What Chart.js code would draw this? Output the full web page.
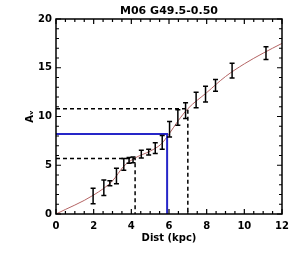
<!DOCTYPE html>
<html><head><meta charset="utf-8">
<script src="https://cdn.jsdelivr.net/npm/chart.js@4"></script>
<style>html,body{margin:0;padding:0;background:#fff}#wrap{width:300px;height:253px}</style>
</head><body><div id="wrap"><canvas id="c" width="300" height="253"></canvas></div>
<script>
const titleText = 'M06 G49.5-0.50';
const xLabel = 'Dist (kpc)';
const yLabel = 'A\u1D65';
const xRange = [0, 12];
const yRange = [0, 20];
const xMajorStep = 2, xMinorStep = 0.5;
const yMajorStep = 5, yMinorStep = 1;

// measured extinction points
const dist  = [1.97, 2.54, 2.86, 3.21, 3.60, 3.88, 4.09, 4.53, 4.92, 5.27, 5.64, 6.03, 6.47, 6.88, 7.44, 7.94, 8.47, 9.35, 11.15];
const av    = [1.85, 2.70, 3.15, 3.90, 5.10, 5.50, 5.55, 6.15, 6.35, 6.75, 7.35, 8.70, 9.90, 10.60, 11.70, 12.30, 13.20, 14.70, 16.50];
const avErr = [0.80, 0.80, 0.25, 0.80, 0.60, 0.30, 0.30, 0.40, 0.30, 0.55, 0.70, 0.80, 0.80, 0.80, 0.80, 0.80, 0.60, 0.75, 0.65];

// fitted extinction curve
const fitDist = [0, 2.0, 3.0, 3.6, 4.2, 5.0, 5.6, 6.0, 6.5, 7.0, 8.0, 9.0, 10.0, 11.0, 12.0];
const fitAv   = [0, 1.95, 3.4, 4.9, 5.75, 6.45, 7.2, 8.2, 9.6, 10.8, 12.45, 14.1, 15.4, 16.5, 17.5];

// guide lines: [distance, Av]
const guideNear = [4.2, 5.7];
const guideFar  = [7.0, 10.8];
const guideBest = [5.9, 8.2];

const pts = dist.map((d, i) => ({x: d, y: av[i]}));
const fitPts = fitDist.map((d, i) => ({x: d, y: fitAv[i]}));
const guide = g => [{x: xRange[0], y: g[1]}, {x: g[0], y: g[1]}, {x: g[0], y: yRange[0]}];

const idlPlugin = {
  id: 'idl',
  afterDatasetsDraw(chart) {
    const ctx = chart.ctx, xs = chart.scales.x, ys = chart.scales.y;
    ctx.save();
    ctx.strokeStyle = '#000';
    ctx.lineWidth = 1.5;
    dist.forEach((d, i) => {
      const px = xs.getPixelForValue(d);
      const y1 = ys.getPixelForValue(av[i] - avErr[i]);
      const y2 = ys.getPixelForValue(av[i] + avErr[i]);
      ctx.beginPath();
      ctx.moveTo(px, y1); ctx.lineTo(px, y2);
      ctx.moveTo(px - 2.5, y1); ctx.lineTo(px + 2.5, y1);
      ctx.moveTo(px - 2.5, y2); ctx.lineTo(px + 2.5, y2);
      ctx.stroke();
    });
    ctx.restore();
  },
  afterDraw(chart) {
    const ctx = chart.ctx, xs = chart.scales.x, ys = chart.scales.y, a = chart.chartArea;
    ctx.save();
    ctx.strokeStyle = '#000';
    ctx.lineWidth = 1.5;
    ctx.strokeRect(a.left, a.top, a.right - a.left, a.bottom - a.top);
    ctx.lineWidth = 1.2;
    ctx.beginPath();
    for (let v = xRange[0]; v <= xRange[1] + 1e-9; v += xMinorStep) {
      const major = Math.abs(v / xMajorStep - Math.round(v / xMajorStep)) < 1e-6;
      const L = major ? 5 : 3;
      const px = xs.getPixelForValue(v);
      ctx.moveTo(px, a.bottom); ctx.lineTo(px, a.bottom - L);
      ctx.moveTo(px, a.top); ctx.lineTo(px, a.top + L);
    }
    for (let v = yRange[0]; v <= yRange[1] + 1e-9; v += yMinorStep) {
      const major = Math.abs(v / yMajorStep - Math.round(v / yMajorStep)) < 1e-6;
      const L = major ? 5 : 3;
      const py = ys.getPixelForValue(v);
      ctx.moveTo(a.left, py); ctx.lineTo(a.left + L, py);
      ctx.moveTo(a.right, py); ctx.lineTo(a.right - L, py);
    }
    ctx.stroke();
    ctx.restore();
  }
};

const FONT = "'DejaVu Sans'";
new Chart(document.getElementById('c'), {
  type: 'scatter',
  data: {
    datasets: [
      {data: guide(guideFar), showLine: true, borderColor: '#000', borderWidth: 1.5, borderDash: [4, 3], pointRadius: 0, fill: false},
      {data: guide(guideNear), showLine: true, borderColor: '#000', borderWidth: 1.5, borderDash: [4, 3], pointRadius: 0, fill: false},
      {data: guide(guideBest), showLine: true, borderColor: '#2626c8', borderWidth: 2, pointRadius: 0, fill: false},
      {data: fitPts, showLine: true, borderColor: '#b46464', borderWidth: 1, pointRadius: 0, cubicInterpolationMode: 'monotone', fill: false},
      {data: pts, showLine: false, pointRadius: 0, borderColor: '#000'}
    ]
  },
  options: {
    responsive: false,
    animation: false,
    devicePixelRatio: 1,
    layout: {padding: {top: 0, right: 18, bottom: 0, left: 0}},
    plugins: {
      legend: {display: false},
      tooltip: {enabled: false},
      title: {display: true, text: titleText, fullSize: false, color: '#000',
              font: {family: FONT, size: 11, weight: 'bold', lineHeight: 1.2}, padding: {top: 4.5, bottom: 1.3}}
    },
    scales: {
      x: {
        type: 'linear', min: xRange[0], max: xRange[1],
        grid: {display: false, drawTicks: false}, border: {display: false},
        ticks: {stepSize: xMajorStep, padding: 6, color: '#000', maxRotation: 0, font: {family: FONT, size: 10, weight: 'bold'}},
        title: {display: true, text: xLabel, color: '#000', padding: {top: 0, bottom: 9}, font: {family: FONT, size: 10, weight: 'bold', lineHeight: 1.2}},
        afterFit(s) { s.height = 39; }
      },
      y: {
        type: 'linear', min: yRange[0], max: yRange[1],
        grid: {display: false, drawTicks: false}, border: {display: false},
        ticks: {stepSize: yMajorStep, padding: 4, color: '#000', font: {family: FONT, size: 10, weight: 'bold'}},
        title: {display: true, text: yLabel, color: '#000', padding: {top: 24, bottom: 0}, font: {family: FONT, size: 10, weight: 'bold', lineHeight: 1.2}},
        afterFit(s) { s.width = 56; }
      }
    }
  },
  plugins: [idlPlugin]
});
</script>
</body></html>
